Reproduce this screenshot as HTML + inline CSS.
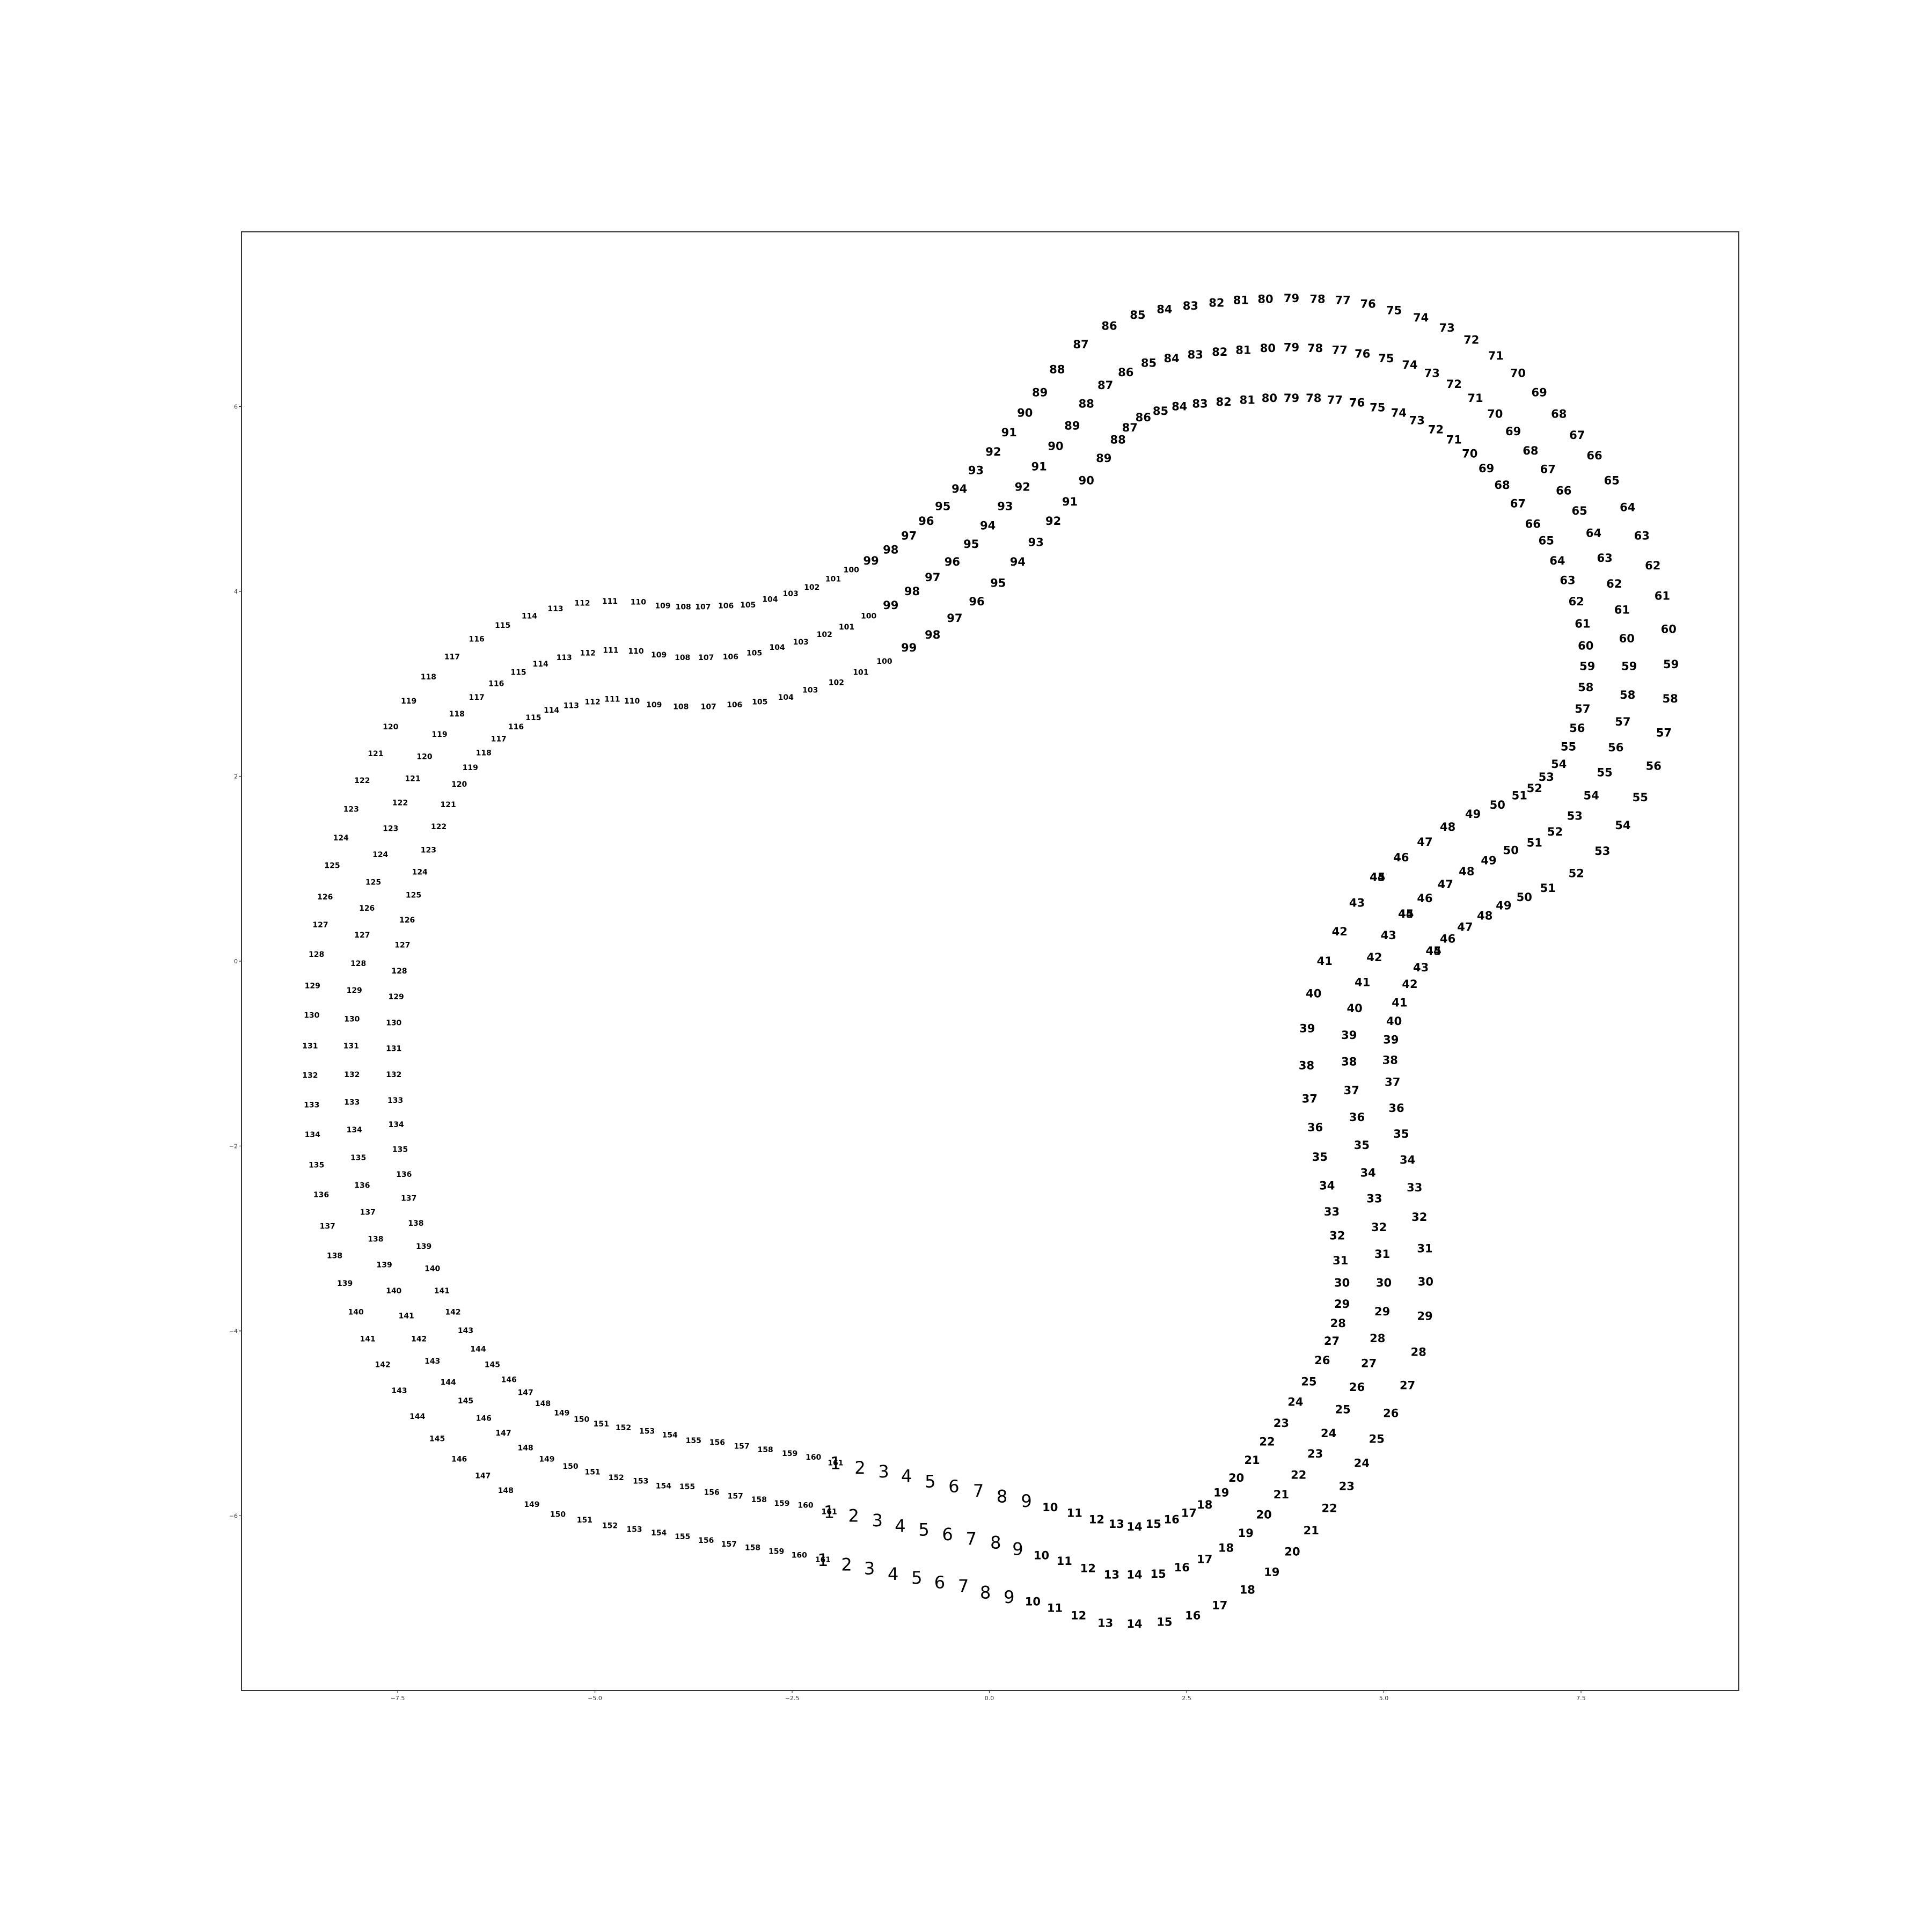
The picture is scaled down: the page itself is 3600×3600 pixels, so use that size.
<!DOCTYPE html>
<html><head><meta charset="utf-8"><title>Numbered rings</title>
<style>
html,body{margin:0;padding:0;background:#fff;}
svg{display:block;}
</style></head>
<body>
<svg id="chart" width="3600" height="3600" viewBox="0 0 3600 3600" xmlns="http://www.w3.org/2000/svg">
<rect x="0" y="0" width="3600" height="3600" fill="#fff"/>
<g id="axes"></g>
<g id="marks"></g>
</svg>
<script>
const xTicks = [-7.5, -5.0, -2.5, 0.0, 2.5, 5.0, 7.5];
const xTickLabels = ["\u22127.5", "\u22125.0", "\u22122.5", "0.0", "2.5", "5.0", "7.5"];
const yTicks = [-6, -4, -2, 0, 2, 4, 6];
const yTickLabels = ["\u22126", "\u22124", "\u22122", "0", "2", "4", "6"];

const ringAX = [-1.95,-1.64,-1.34,-1.05,-0.75,-0.45,-0.14,0.16,0.47,0.77,
1.08,1.36,1.61,1.84,2.08,2.31,2.53,2.73,2.94,3.13,
3.33,3.52,3.70,3.88,4.05,4.22,4.34,4.42,4.47,4.47,
4.45,4.41,4.34,4.28,4.19,4.13,4.06,4.02,4.03,4.11,
4.25,4.44,4.66,4.92,4.92,5.22,5.52,5.81,6.13,6.44,
6.72,6.91,7.06,7.22,7.34,7.45,7.52,7.56,7.58,7.56,
7.52,7.44,7.33,7.20,7.06,6.89,6.70,6.50,6.30,6.09,
5.89,5.66,5.42,5.19,4.92,4.66,4.38,4.11,3.83,3.55,
3.27,2.97,2.67,2.41,2.17,1.95,1.78,1.63,1.45,1.23,
1.02,0.81,0.59,0.36,0.11,-0.16,-0.44,-0.72,-1.02,-1.33,
-1.63,-1.94,-2.27,-2.58,-2.91,-3.23,-3.56,-3.91,-4.25,-4.53,
-4.78,-5.03,-5.30,-5.55,-5.78,-6.00,-6.22,-6.41,-6.58,-6.72,
-6.86,-6.98,-7.11,-7.22,-7.30,-7.38,-7.44,-7.48,-7.52,-7.55,
-7.55,-7.55,-7.53,-7.52,-7.47,-7.42,-7.36,-7.27,-7.17,-7.06,
-6.94,-6.80,-6.64,-6.48,-6.30,-6.09,-5.88,-5.66,-5.42,-5.17,
-4.92,-4.64,-4.34,-4.05,-3.75,-3.45,-3.14,-2.84,-2.53,-2.23,
-1.95];
const ringAY = [-5.43,-5.48,-5.52,-5.57,-5.63,-5.68,-5.73,-5.79,-5.84,-5.91,
-5.97,-6.04,-6.09,-6.12,-6.09,-6.04,-5.97,-5.88,-5.75,-5.59,
-5.40,-5.20,-5.00,-4.77,-4.55,-4.32,-4.11,-3.92,-3.71,-3.48,
-3.24,-2.97,-2.71,-2.43,-2.12,-1.80,-1.49,-1.13,-0.73,-0.35,
0.00,0.32,0.63,0.91,0.91,1.12,1.29,1.45,1.59,1.69,
1.79,1.87,1.99,2.13,2.32,2.52,2.73,2.96,3.19,3.41,
3.65,3.89,4.12,4.33,4.55,4.73,4.95,5.15,5.33,5.49,
5.64,5.75,5.85,5.93,5.99,6.04,6.07,6.09,6.09,6.09,
6.07,6.05,6.03,6.00,5.95,5.88,5.77,5.64,5.44,5.20,
4.97,4.76,4.53,4.32,4.09,3.89,3.71,3.53,3.39,3.24,
3.12,3.01,2.93,2.85,2.80,2.77,2.75,2.75,2.77,2.81,
2.83,2.80,2.76,2.71,2.63,2.53,2.40,2.25,2.09,1.91,
1.69,1.45,1.20,0.96,0.71,0.44,0.17,-0.11,-0.39,-0.67,
-0.95,-1.23,-1.51,-1.77,-2.04,-2.31,-2.57,-2.84,-3.09,-3.33,
-3.57,-3.80,-4.00,-4.20,-4.37,-4.53,-4.67,-4.79,-4.89,-4.96,
-5.01,-5.05,-5.09,-5.13,-5.19,-5.21,-5.25,-5.29,-5.33,-5.37,
-5.43];

const ringBX = [-2.03,-1.72,-1.42,-1.13,-0.83,-0.53,-0.23,0.08,0.36,0.66,
0.95,1.25,1.55,1.84,2.14,2.44,2.73,3.00,3.25,3.48,
3.70,3.92,4.13,4.30,4.48,4.66,4.81,4.92,4.98,5.00,
4.98,4.94,4.88,4.80,4.72,4.66,4.59,4.56,4.56,4.63,
4.73,4.88,5.06,5.28,5.28,5.52,5.78,6.05,6.33,6.61,
6.91,7.17,7.42,7.63,7.80,7.94,8.03,8.09,8.11,8.08,
8.02,7.92,7.80,7.66,7.48,7.28,7.08,6.86,6.64,6.41,
6.16,5.89,5.61,5.33,5.03,4.73,4.44,4.13,3.83,3.53,
3.22,2.92,2.61,2.31,2.02,1.73,1.47,1.23,1.05,0.84,
0.63,0.42,0.20,-0.02,-0.23,-0.47,-0.72,-0.98,-1.25,-1.53,
-1.81,-2.09,-2.39,-2.69,-2.98,-3.28,-3.59,-3.89,-4.19,-4.48,
-4.80,-5.09,-5.39,-5.69,-5.97,-6.25,-6.50,-6.75,-6.97,-7.16,
-7.31,-7.47,-7.59,-7.72,-7.81,-7.89,-7.95,-8.00,-8.05,-8.08,
-8.09,-8.08,-8.08,-8.05,-8.00,-7.95,-7.88,-7.78,-7.67,-7.55,
-7.39,-7.23,-7.06,-6.86,-6.64,-6.41,-6.16,-5.88,-5.61,-5.31,
-5.03,-4.73,-4.42,-4.13,-3.83,-3.52,-3.22,-2.92,-2.63,-2.33,
-2.03];
const ringBY = [-5.96,-6.00,-6.05,-6.11,-6.15,-6.20,-6.25,-6.29,-6.36,-6.43,
-6.49,-6.57,-6.64,-6.64,-6.63,-6.56,-6.47,-6.35,-6.19,-5.99,
-5.77,-5.56,-5.33,-5.11,-4.85,-4.61,-4.35,-4.08,-3.79,-3.48,
-3.17,-2.88,-2.57,-2.29,-1.99,-1.69,-1.40,-1.09,-0.80,-0.51,
-0.23,0.04,0.28,0.51,0.51,0.68,0.83,0.97,1.09,1.20,
1.28,1.40,1.57,1.79,2.04,2.31,2.59,2.88,3.19,3.49,
3.80,4.08,4.36,4.63,4.87,5.09,5.32,5.52,5.73,5.92,
6.09,6.24,6.36,6.45,6.52,6.57,6.61,6.63,6.64,6.63,
6.61,6.59,6.56,6.52,6.47,6.37,6.23,6.03,5.79,5.57,
5.35,5.13,4.92,4.71,4.51,4.32,4.15,4.00,3.85,3.73,
3.61,3.53,3.45,3.39,3.33,3.29,3.28,3.28,3.31,3.35,
3.36,3.33,3.28,3.21,3.12,3.00,2.85,2.67,2.45,2.21,
1.97,1.71,1.43,1.15,0.85,0.57,0.28,-0.03,-0.32,-0.63,
-0.92,-1.23,-1.53,-1.83,-2.13,-2.43,-2.72,-3.01,-3.29,-3.57,
-3.84,-4.09,-4.33,-4.56,-4.76,-4.95,-5.11,-5.27,-5.39,-5.47,
-5.53,-5.59,-5.63,-5.68,-5.69,-5.75,-5.79,-5.83,-5.87,-5.89,
-5.96];

const ringCX = [-2.11,-1.81,-1.52,-1.22,-0.92,-0.63,-0.33,-0.05,0.25,0.55,
0.83,1.13,1.47,1.84,2.22,2.58,2.92,3.27,3.58,3.84,
4.08,4.31,4.53,4.72,4.91,5.09,5.30,5.44,5.52,5.53,
5.52,5.45,5.39,5.30,5.22,5.16,5.11,5.08,5.09,5.13,
5.20,5.33,5.47,5.63,5.63,5.81,6.03,6.28,6.52,6.78,
7.08,7.44,7.77,8.03,8.25,8.42,8.55,8.63,8.64,8.61,
8.53,8.41,8.27,8.09,7.89,7.67,7.45,7.22,6.97,6.70,
6.42,6.11,5.80,5.47,5.13,4.80,4.48,4.16,3.83,3.50,
3.19,2.88,2.55,2.22,1.88,1.52,1.16,0.86,0.64,0.45,
0.25,0.05,-0.17,-0.38,-0.59,-0.80,-1.02,-1.25,-1.50,-1.75,
-1.98,-2.25,-2.52,-2.78,-3.06,-3.34,-3.63,-3.88,-4.14,-4.45,
-4.81,-5.16,-5.50,-5.83,-6.17,-6.50,-6.81,-7.11,-7.36,-7.59,
-7.78,-7.95,-8.09,-8.22,-8.33,-8.42,-8.48,-8.53,-8.58,-8.59,
-8.61,-8.61,-8.59,-8.58,-8.53,-8.47,-8.39,-8.30,-8.17,-8.03,
-7.88,-7.69,-7.48,-7.25,-7.00,-6.72,-6.42,-6.13,-5.80,-5.47,
-5.13,-4.81,-4.50,-4.19,-3.89,-3.59,-3.30,-3.00,-2.70,-2.41,
-2.11];
const ringCY = [-6.48,-6.53,-6.57,-6.63,-6.67,-6.72,-6.76,-6.83,-6.88,-6.93,
-7.00,-7.08,-7.16,-7.17,-7.15,-7.08,-6.97,-6.80,-6.61,-6.39,
-6.16,-5.92,-5.68,-5.43,-5.17,-4.89,-4.59,-4.23,-3.84,-3.47,
-3.11,-2.77,-2.45,-2.15,-1.87,-1.59,-1.31,-1.07,-0.85,-0.65,
-0.45,-0.25,-0.07,0.11,0.11,0.24,0.37,0.49,0.60,0.69,
0.79,0.95,1.19,1.47,1.77,2.11,2.47,2.84,3.21,3.59,
3.95,4.28,4.60,4.91,5.20,5.47,5.69,5.92,6.15,6.36,
6.55,6.72,6.85,6.96,7.04,7.11,7.15,7.16,7.17,7.16,
7.15,7.12,7.09,7.05,6.99,6.87,6.67,6.40,6.15,5.93,
5.72,5.51,5.31,5.11,4.92,4.76,4.60,4.45,4.33,4.23,
4.13,4.04,3.97,3.91,3.85,3.84,3.83,3.83,3.84,3.88,
3.89,3.87,3.81,3.73,3.63,3.48,3.29,3.07,2.81,2.53,
2.24,1.95,1.64,1.33,1.03,0.69,0.39,0.07,-0.27,-0.59,
-0.92,-1.24,-1.56,-1.88,-2.21,-2.53,-2.87,-3.19,-3.49,-3.80,
-4.09,-4.37,-4.65,-4.93,-5.17,-5.39,-5.57,-5.73,-5.88,-5.99,
-6.05,-6.11,-6.15,-6.19,-6.23,-6.27,-6.31,-6.35,-6.39,-6.43,
-6.48];

const ringNames = ["inner-ring", "middle-ring", "outer-ring"];

// axes geometry
const AX_L = 450, AX_R = 3240, AX_T = 432, AX_B = 3150;
const XMIN = -9.48, XMAX = 9.50, YMIN = -7.89, YMAX = 7.89;
function sx(v){ return AX_L + (v - XMIN) / (XMAX - XMIN) * (AX_R - AX_L); }
function sy(v){ return AX_B - (v - YMIN) / (YMAX - YMIN) * (AX_B - AX_T); }

const NS = "http://www.w3.org/2000/svg";
const axes = document.getElementById("axes");
const marks = document.getElementById("marks");

// frame
const frame = document.createElementNS(NS, "rect");
frame.setAttribute("x", AX_L); frame.setAttribute("y", AX_T);
frame.setAttribute("width", AX_R - AX_L); frame.setAttribute("height", AX_B - AX_T);
frame.setAttribute("fill", "none"); frame.setAttribute("stroke", "#333"); frame.setAttribute("stroke-width", "2");


axes.appendChild(frame);

xTicks.forEach((t, i) => {
  const x = sx(t);
  const ln = document.createElementNS(NS, "line");
  ln.setAttribute("x1", x); ln.setAttribute("x2", x);
  ln.setAttribute("y1", AX_B); ln.setAttribute("y2", AX_B + 5);
  ln.setAttribute("stroke", "#333"); ln.setAttribute("stroke-width", "1.2");
  
  
  axes.appendChild(ln);
  const tx = document.createElementNS(NS, "text");
  tx.setAttribute("x", x); tx.setAttribute("y", AX_B + 18);
  tx.setAttribute("text-anchor", "middle");
  tx.setAttribute("font-family", "DejaVu Sans, Liberation Sans, sans-serif");
  tx.setAttribute("font-size", "11"); tx.setAttribute("fill", "#333");
  tx.textContent = xTickLabels[i];
  
  
  axes.appendChild(tx);
});
yTicks.forEach((t, i) => {
  const y = sy(t);
  const ln = document.createElementNS(NS, "line");
  ln.setAttribute("x1", AX_L - 5); ln.setAttribute("x2", AX_L);
  ln.setAttribute("y1", y); ln.setAttribute("y2", y);
  ln.setAttribute("stroke", "#333"); ln.setAttribute("stroke-width", "1.2");
  
  
  axes.appendChild(ln);
  const tx = document.createElementNS(NS, "text");
  tx.setAttribute("x", AX_L - 7); tx.setAttribute("y", y + 4);
  tx.setAttribute("text-anchor", "end");
  tx.setAttribute("font-family", "DejaVu Sans, Liberation Sans, sans-serif");
  tx.setAttribute("font-size", "11"); tx.setAttribute("fill", "#333");
  tx.textContent = yTickLabels[i];
  
  
  axes.appendChild(tx);
});

const rings = [[ringAX, ringAY], [ringBX, ringBY], [ringCX, ringCY]];
rings.forEach((r, ri) => {
  const g = document.createElementNS(NS, "g");
  
  
  marks.appendChild(g);
  const xs = r[0], ys = r[1];
  for (let i = 0; i < xs.length; i++) {
    const lab = String(i + 1);
    const t = document.createElementNS(NS, "text");
    t.setAttribute("x", sx(xs[i]).toFixed(1));
    t.setAttribute("y", sy(ys[i]).toFixed(1));
    t.setAttribute("text-anchor", "middle");
    t.setAttribute("dominant-baseline", "central");
    t.setAttribute("font-family", "DejaVu Sans, Liberation Sans, sans-serif");
    const fs = lab.length === 1 ? 32 : (lab.length === 2 ? 21 : 14);
    t.setAttribute("font-size", fs);
    t.setAttribute("font-weight", lab.length === 1 ? "normal" : "bold");
    t.setAttribute("fill", "#000");
    t.textContent = lab;
    
    
    g.appendChild(t);
  }
});
</script>
</body></html>
